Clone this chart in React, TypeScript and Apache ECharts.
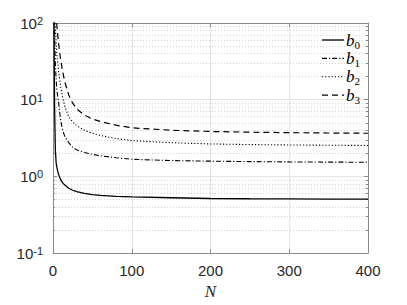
import React, { useEffect, useRef } from "react";
import * as echarts from "echarts";

// Sample sizes N
const N = [1, 2, 3, 4, 5, 6, 7, 8, 10, 12, 15, 20, 25, 30, 40, 50, 60, 80, 100, 150, 200, 250, 300, 350, 400];

// Series values (log scale)
const b0 = [200, 8, 2.2, 1.5, 1.3, 1.17, 1.07, 1.0, 0.9, 0.83, 0.77, 0.7, 0.66, 0.633, 0.6, 0.58, 0.567, 0.55, 0.54, 0.527, 0.515, 0.511, 0.508, 0.506, 0.505];
const b1 = [500, 80, 30, 18, 13, 11, 9.5, 7.5, 5.2, 4.1, 3.3, 2.75, 2.4, 2.22, 2.05, 1.94, 1.86, 1.75, 1.67, 1.61, 1.58, 1.56, 1.545, 1.535, 1.53];
const b2 = [1000, 200, 90, 55, 38, 30, 24, 20, 14, 11, 8.2, 6.0, 5.1, 4.6, 4.0, 3.65, 3.42, 3.12, 2.93, 2.75, 2.65, 2.6, 2.57, 2.55, 2.53];
const b3 = [2000, 500, 200, 130, 90, 70, 55, 45, 32, 24, 17, 11.5, 9, 7.6, 6.3, 5.6, 5.2, 4.65, 4.3, 4.0, 3.85, 3.77, 3.72, 3.68, 3.65];

const seriesNames = ["b0", "b1", "b2", "b3"];
const seriesData = [b0, b1, b2, b3];
const seriesDash: (string | number[])[] = ["solid", [5, 2, 1.2, 2], [1.2, 2], [6, 4]];
const seriesWidth = [1.3, 1.1, 1.1, 1.2];

// Axis ranges
const xMin = 0;
const xMax = 400;
const xInterval = 100;
const yMin = 0.1;
const yMax = 100;

// minor log gridline positions (in log10 units), 2..9 x 10^k
const minorLog: number[] = [];
for (let k = -1; k < 2; k++) {
  for (let m = 2; m <= 9; m++) minorLog.push(k + Math.log10(m));
}

const AXIS_COLOR = "#8a8a8a";
const TEXT_COLOR = "#262626";
const SANS = "Liberation Sans, Arial, sans-serif";
const SERIF = "Liberation Serif, Times New Roman, serif";

// legend placement (layout only)
const LEG_X0 = 322;
const LEG_X1 = 344;
const LEG_Y0 = 40;
const LEG_DY = 18.4;

export default function App() {
  const ref = useRef<HTMLDivElement>(null);

  useEffect(() => {
    if (!ref.current) return;
    const chart = echarts.init(ref.current, undefined, { renderer: "svg" });

    const labelRich = {
      b: { fontSize: 15, fontFamily: SANS, color: TEXT_COLOR, lineHeight: 15, padding: [4.5, 0, 0, 0], verticalAlign: "bottom" },
      s: { fontSize: 11, fontFamily: SANS, color: TEXT_COLOR, lineHeight: 11, verticalAlign: "top" },
    };

    const legendRich = {
      b: { fontSize: 17, fontFamily: SERIF, fontStyle: "italic", fill: "#000", lineHeight: 17, verticalAlign: "top" },
      s: { fontSize: 11, fontFamily: SERIF, fill: "#000", lineHeight: 11, padding: [7.5, 0, 0, 0], verticalAlign: "top" },
    };

    const legendGraphics: any[] = [];
    seriesNames.forEach((name, i) => {
      const y = LEG_Y0 + i * LEG_DY;
      const dash = seriesDash[i];
      legendGraphics.push({
        type: "line",
        shape: { x1: LEG_X0, y1: y, x2: LEG_X1, y2: y },
        style: { stroke: "#000", lineWidth: seriesWidth[i], lineDash: Array.isArray(dash) ? dash : null },
        z: 100,
      });
      legendGraphics.push({
        type: "text",
        x: LEG_X1 + 2,
        y,
        style: {
          text: `{b|b}{s|${name.slice(1)}}`,
          rich: legendRich,
          verticalAlign: "middle",
          align: "left",
        },
        z: 100,
      });
    });

    const option: any = {
      animation: false,
      backgroundColor: "#ffffff",
      grid: { left: 53, right: 39, top: 23, bottom: 51, containLabel: false },
      graphic: legendGraphics,
      xAxis: [
        {
          type: "value",
          position: "bottom",
          min: xMin,
          max: xMax,
          interval: xInterval,
          name: "N",
          nameLocation: "middle",
          nameGap: 29,
          nameTextStyle: { fontFamily: SERIF, fontStyle: "italic", fontSize: 17, color: TEXT_COLOR },
          axisLine: { show: true, onZero: false, lineStyle: { color: AXIS_COLOR, width: 1 } },
          axisTick: { show: true, inside: true, length: 4, lineStyle: { color: AXIS_COLOR } },
          axisLabel: { fontSize: 15, fontFamily: SANS, color: TEXT_COLOR, margin: 10 },
          splitLine: { show: true, lineStyle: { color: "#e4e4e4", width: 1 } },
        },
        {
          type: "value",
          position: "top",
          min: xMin,
          max: xMax,
          interval: xInterval,
          axisLine: { show: true, onZero: false, lineStyle: { color: AXIS_COLOR, width: 1 } },
          axisTick: { show: true, inside: true, length: 4, lineStyle: { color: AXIS_COLOR } },
          axisLabel: { show: false },
          splitLine: { show: false },
        },
      ],
      yAxis: [
        {
          type: "log",
          logBase: 10,
          position: "left",
          min: yMin,
          max: yMax,
          axisLine: { show: true, onZero: false, lineStyle: { color: AXIS_COLOR, width: 1 } },
          axisTick: { show: true, inside: true, length: 4, lineStyle: { color: AXIS_COLOR } },
          axisLabel: {
            margin: 10,
            formatter: (v: number) => `{b|10}{s|${Math.round(Math.log10(v))}}`,
            rich: labelRich,
          },
          splitLine: { show: true, lineStyle: { color: "#e4e4e4", width: 1 } },
          minorTick: { show: false },
        },
        {
          type: "value",
          position: "left",
          min: -1,
          max: 2,
          axisLine: { show: false, onZero: false },
          axisTick: { show: true, inside: true, length: 2, customValues: minorLog, lineStyle: { color: AXIS_COLOR } },
          axisLabel: { show: false },
          splitLine: { show: true, lineStyle: { color: "#d2d2d2", width: 1, type: [1, 2] } },
        },
        {
          type: "log",
          logBase: 10,
          position: "right",
          min: yMin,
          max: yMax,
          axisLine: { show: true, onZero: false, lineStyle: { color: AXIS_COLOR, width: 1 } },
          axisTick: { show: true, inside: true, length: 4, lineStyle: { color: AXIS_COLOR } },
          axisLabel: { show: false },
          splitLine: { show: false },
        },
        {
          type: "value",
          position: "right",
          min: -1,
          max: 2,
          axisLine: { show: false, onZero: false },
          axisTick: { show: true, inside: true, length: 2, customValues: minorLog, lineStyle: { color: AXIS_COLOR } },
          axisLabel: { show: false },
          splitLine: { show: false },
        },
      ],
      series: seriesNames.map((name, i) => ({
        name,
        type: "line",
        xAxisIndex: 0,
        yAxisIndex: 0,
        data: N.map((n, j) => [n, seriesData[i][j]]),
        symbol: "none",
        showSymbol: false,
        smooth: false,
        clip: true,
        lineStyle: { color: "#000", width: seriesWidth[i], type: seriesDash[i] },
        itemStyle: { color: "#000" },
        z: 10,
      })),
    };

    chart.setOption(option);
    return () => chart.dispose();
  }, []);

  return <div ref={ref} style={{ width: 407, height: 305, position: "absolute", left: 0, top: 0 }} />;
}
